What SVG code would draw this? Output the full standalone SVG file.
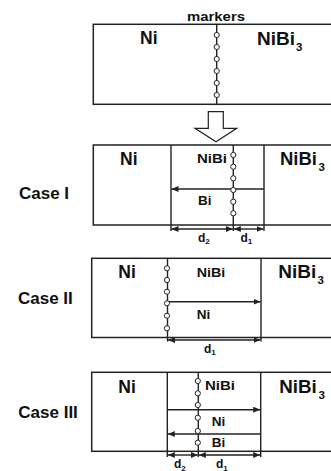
<svg xmlns="http://www.w3.org/2000/svg" width="331" height="471" viewBox="0 0 331 471">
  <style>
    .box { fill: #fff; stroke: #222; stroke-width: 1.5; }
    .ln { stroke: #222; stroke-width: 1.4; fill: none; }
    .mk { fill: #fff; stroke: #222; stroke-width: 1; }
    .arr { stroke: #222; stroke-width: 1.4; fill: none; marker-end: url(#head); }
    .dim { stroke: #222; stroke-width: 1.4; fill: none; marker-start: url(#head); marker-end: url(#head); }
    text { font-family: "Liberation Sans", Arial, sans-serif; font-weight: bold; fill: #111; }
    .big { font-size: 17.5px; }
    .sm { font-size: 13.5px; }
    .sub { font-size: 11.5px; }
    .case { font-size: 17px; }
    .d { font-size: 12px; }
    .ds { font-size: 8px; }
  </style>
  <defs>
    <marker id="head" markerUnits="userSpaceOnUse" markerWidth="7" markerHeight="6" refX="7" refY="3" orient="auto-start-reverse">
      <path d="M0,0 L7,3 L0,6 z" fill="#222"/>
    </marker>
    <g id="bead">
      <circle cx="0" cy="0" r="2.6" class="mk"/>
    </g>
  </defs>

  <!-- initial couple with the marker plane -->
  <g id="initial">
    <rect class="box" x="93.3" y="24.3" width="250" height="80"/>
    <line class="ln" x1="216.7" y1="24.3" x2="216.7" y2="104.3"/>
    <use href="#bead" x="216.7" y="35"/>
    <use href="#bead" x="216.7" y="47"/>
    <use href="#bead" x="216.7" y="59"/>
    <use href="#bead" x="216.7" y="71"/>
    <use href="#bead" x="216.7" y="83"/>
    <use href="#bead" x="216.7" y="95"/>
    <text x="187" y="21" font-size="12" textLength="58" lengthAdjust="spacingAndGlyphs">markers</text>
    <text class="big" x="140" y="44">Ni</text>
    <text class="big" x="257" y="45" textLength="38" lengthAdjust="spacingAndGlyphs">NiBi</text>
    <text class="sub" x="296" y="51">3</text>
  </g>

  <!-- Case I: marker plane inside the NiBi layer, both species move -->
  <g id="case1">
    <text class="case" x="19" y="198.5">Case I</text>
    <rect class="box" x="93.3" y="145" width="250" height="80"/>
    <line class="ln" x1="171" y1="145" x2="171" y2="231"/>
    <line class="ln" x1="264" y1="145" x2="264" y2="231"/>
    <line class="ln" x1="233.3" y1="145" x2="233.3" y2="231"/>
    <line class="arr" x1="264" y1="189" x2="171.5" y2="189"/>
    <use href="#bead" x="233.3" y="155"/>
    <use href="#bead" x="233.3" y="166.7"/>
    <use href="#bead" x="233.3" y="178.3"/>
    <use href="#bead" x="233.3" y="190"/>
    <use href="#bead" x="233.3" y="201.7"/>
    <use href="#bead" x="233.3" y="213.3"/>
    <line class="dim" x1="171.5" y1="229" x2="232.8" y2="229"/>
    <line class="dim" x1="233.8" y1="229" x2="263.5" y2="229"/>
    <text class="big" x="120" y="164.5">Ni</text>
    <text class="sm" x="197" y="162.5" textLength="30" lengthAdjust="spacingAndGlyphs">NiBi</text>
    <text class="sm" x="198" y="205">Bi</text>
    <text class="big" x="280" y="165" textLength="37" lengthAdjust="spacingAndGlyphs">NiBi</text>
    <text class="sub" x="318.5" y="171">3</text>
    <text class="d" x="198" y="241.5">d<tspan class="ds" dy="2.5">2</tspan></text>
    <text class="d" x="240.5" y="241.5">d<tspan class="ds" dy="2.5">1</tspan></text>
  </g>

  <!-- Case II: markers at the Ni side, Ni is the mover -->
  <g id="case2">
    <text class="case" x="18" y="303.5">Case II</text>
    <rect class="box" x="91.7" y="258.3" width="250" height="79.2"/>
    <line class="ln" x1="167.5" y1="258.3" x2="167.5" y2="341.5"/>
    <line class="ln" x1="261" y1="258.3" x2="261" y2="341.5"/>
    <line class="arr" x1="167.5" y1="301.7" x2="260.5" y2="301.7"/>
    <use href="#bead" x="167" y="268.3"/>
    <use href="#bead" x="167" y="280"/>
    <use href="#bead" x="167" y="291.7"/>
    <use href="#bead" x="167" y="303.3"/>
    <use href="#bead" x="167" y="315.7"/>
    <use href="#bead" x="167" y="328.3"/>
    <line class="dim" x1="168" y1="340" x2="260.5" y2="340"/>
    <text class="big" x="118.3" y="278.3">Ni</text>
    <text class="sm" x="196.7" y="277" textLength="28.5" lengthAdjust="spacingAndGlyphs">NiBi</text>
    <text class="sm" x="196.7" y="318.5">Ni</text>
    <text class="big" x="278.3" y="278.3" textLength="38" lengthAdjust="spacingAndGlyphs">NiBi</text>
    <text class="sub" x="317.5" y="284.3">3</text>
    <text class="d" x="204" y="352.5">d<tspan class="ds" dy="2.5">1</tspan></text>
  </g>

  <!-- Case III: markers inside the layer, Ni and Bi both diffuse -->
  <g id="case3">
    <text class="case" x="18.3" y="418.3">Case III</text>
    <rect class="box" x="91.7" y="372.3" width="250" height="79"/>
    <line class="ln" x1="167.3" y1="372.3" x2="167.3" y2="457"/>
    <line class="ln" x1="260.7" y1="372.3" x2="260.7" y2="457"/>
    <line class="ln" x1="198.3" y1="372.3" x2="198.3" y2="457"/>
    <line class="arr" x1="167.3" y1="409.7" x2="260.2" y2="409.7"/>
    <line class="arr" x1="260.7" y1="434" x2="167.8" y2="434"/>
    <use href="#bead" x="197.8" y="381"/>
    <use href="#bead" x="197.8" y="393.3"/>
    <use href="#bead" x="197.8" y="405"/>
    <use href="#bead" x="197.8" y="417.7"/>
    <use href="#bead" x="197.8" y="431"/>
    <use href="#bead" x="197.8" y="442.7"/>
    <line class="dim" x1="167.8" y1="455" x2="197.8" y2="455"/>
    <line class="dim" x1="198.8" y1="455" x2="260.2" y2="455"/>
    <text class="big" x="118.3" y="393.3">Ni</text>
    <text class="sm" x="205" y="390" textLength="30" lengthAdjust="spacingAndGlyphs">NiBi</text>
    <text class="sm" x="211.7" y="425.7">Ni</text>
    <text class="sm" x="211.7" y="446.7">Bi</text>
    <text class="big" x="279.3" y="393.3" textLength="37.5" lengthAdjust="spacingAndGlyphs">NiBi</text>
    <text class="sub" x="318.5" y="399.3">3</text>
    <text class="d" x="174" y="468">d<tspan class="ds" dy="2.5">2</tspan></text>
    <text class="d" x="216" y="468">d<tspan class="ds" dy="2.5">1</tspan></text>
  </g>

  <!-- transition arrow between the initial couple and the cases -->
  <g id="connectors">
    <polygon points="208.3,111.7 223.3,111.7 223.3,128.3 236.7,128.3 216,141.7 195,128.3 208.3,128.3" fill="#fff" stroke="#222" stroke-width="1.2"/>
  </g>
</svg>
